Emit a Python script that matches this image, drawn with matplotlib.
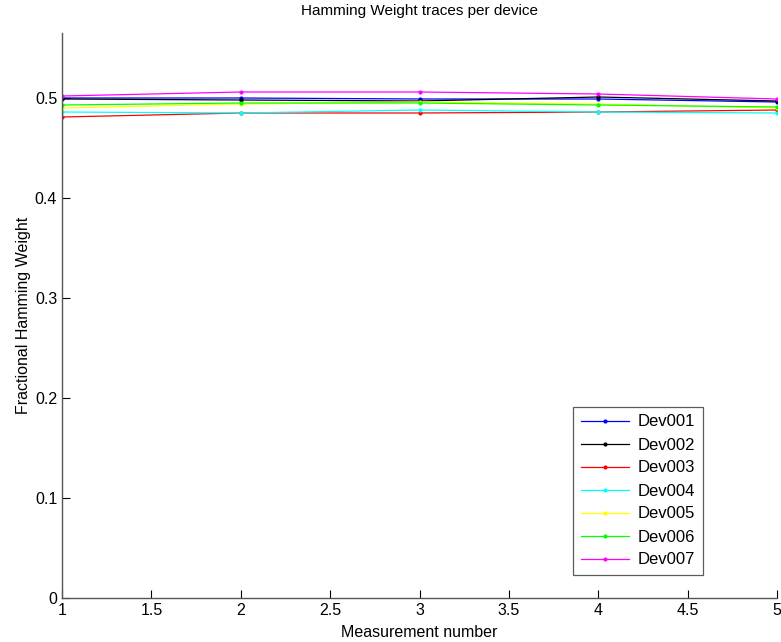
import matplotlib
matplotlib.use("Agg")
import matplotlib.pyplot as plt

plt.rcParams['font.family'] = ['Liberation Sans', 'DejaVu Sans']

measurements = [1, 2, 3, 4, 5]
devices = ["Dev001", "Dev002", "Dev003", "Dev004", "Dev005", "Dev006", "Dev007"]
colors = ["#0000ff", "#000000", "#ff0000", "#00ffff", "#ffff00", "#00ff00", "#ff00ff"]
dev001 = [0.500, 0.500, 0.499, 0.499, 0.496]
dev002 = [0.499, 0.498, 0.497, 0.501, 0.497]
dev003 = [0.481, 0.485, 0.485, 0.486, 0.488]
dev004 = [0.486, 0.485, 0.488, 0.486, 0.485]
dev005 = [0.490, 0.494, 0.496, 0.494, 0.490]
dev006 = [0.493, 0.495, 0.495, 0.493, 0.491]
dev007 = [0.502, 0.506, 0.506, 0.504, 0.499]
series = [dev001, dev002, dev003, dev004, dev005, dev006, dev007]
xticks = [1, 1.5, 2, 2.5, 3, 3.5, 4, 4.5, 5]
yticks = [0, 0.1, 0.2, 0.3, 0.4, 0.5]

fig = plt.figure(figsize=(7.81, 6.42), dpi=100)
ax = fig.add_axes([62/781, 44/642, 715/781, 565/642])

for name, c, vals in zip(devices, colors, series):
    ax.plot(measurements, vals, color=c, lw=0.9, marker='.', markersize=4, label=name)

ax.set_xlim(1, 5)
ax.set_ylim(0, 0.565)
ax.set_xticks(xticks)
ax.set_xticklabels([f"{t:g}" for t in xticks])
ax.set_yticks(yticks)
ax.set_yticklabels([f"{t:g}" for t in yticks])
ax.tick_params(direction='in', length=6, labelsize=11.5, colors='#000000', width=0.8)
for s in ['top', 'right']:
    ax.spines[s].set_visible(False)
for s in ['left', 'bottom']:
    ax.spines[s].set_color('#555555')
    ax.spines[s].set_linewidth(1.0)

ax.set_title("Hamming Weight traces per device", fontsize=11, pad=13)
ax.set_xlabel("Measurement number", fontsize=11.5, labelpad=5)
ax.set_ylabel("Fractional Hamming Weight", fontsize=11.5, labelpad=3)

leg = ax.legend(loc='lower right', bbox_to_anchor=(703/781, 67/642), bbox_transform=fig.transFigure,
                fontsize=12, frameon=True, fancybox=False, handlelength=2.9,
                borderpad=0.45, labelspacing=0.48, handletextpad=0.55, borderaxespad=0)
leg.get_frame().set_edgecolor('#333333')
leg.get_frame().set_linewidth(0.9)

fig.savefig("out.png", dpi=100)
